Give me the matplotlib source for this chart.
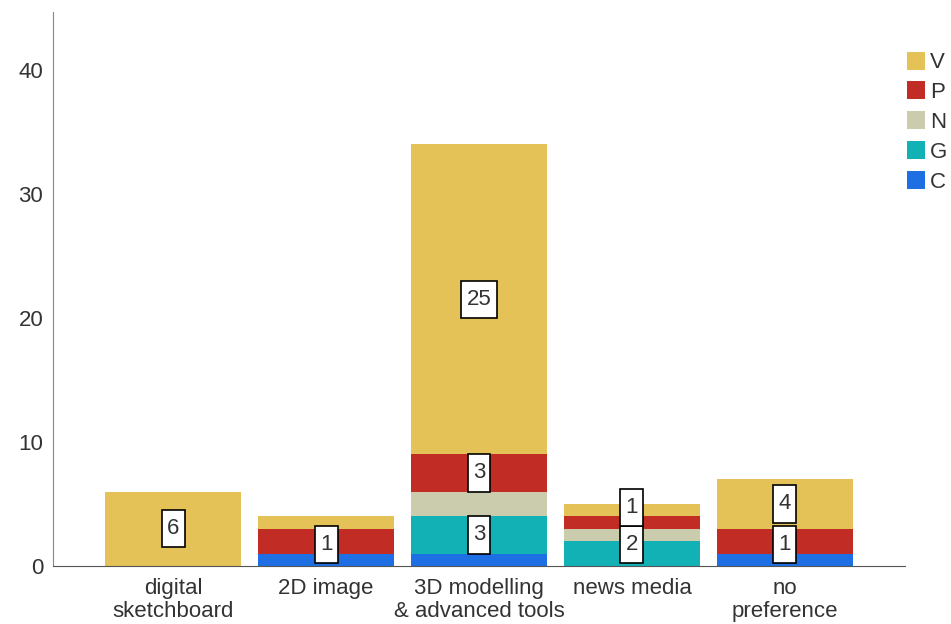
import matplotlib.pyplot as plt
from matplotlib.lines import Line2D
from matplotlib.patches import Rectangle
import numpy as np

plt.rcParams['font.family'] = ['Liberation Sans', 'DejaVu Sans']

# ==== data ====
categories = ['digital\nsketchboard', '2D image', '3D modelling\n& advanced tools',
              'news media', 'no\npreference']
series = ['C', 'G', 'N', 'P', 'V']      # bottom -> top
values = {
    'C': [0, 1, 1, 0, 1],
    'G': [0, 0, 3, 2, 0],
    'N': [0, 0, 2, 1, 0],
    'P': [0, 2, 3, 1, 2],
    'V': [6, 1, 25, 1, 4],
}
# which segments carry a value box
shown = {
    'C': [0, 1, 0, 0, 1],
    'G': [0, 0, 1, 1, 0],
    'N': [0, 0, 0, 0, 0],
    'P': [0, 0, 1, 0, 0],
    'V': [1, 0, 1, 1, 1],
}
colors = {'V': '#e5c258', 'P': '#c12d25', 'N': '#cbcbad', 'G': '#12b1b6', 'C': '#1e6fe3'}

txt = '#333333'
fs = 16

fig = plt.figure(figsize=(9.51, 6.24), dpi=100)
ax = fig.add_axes([0.0557, 0.093, 0.896, 0.888])

x = np.arange(len(categories))
bottom = np.zeros(len(categories))
for s in series:
    v = np.array(values[s], dtype=float)
    ax.bar(x, v, bottom=bottom, width=0.89, color=colors[s], linewidth=0, zorder=2)
    bottom += v

# ==== value boxes ====
box_h = 3.0
for i in range(len(categories)):
    base = 0.0
    prev_top = 0.24
    for s in series:
        v = values[s][i]
        if shown[s][i] and v > 0:
            mid = base + v / 2
            yc = max(mid, prev_top + box_h / 2)
            lab = str(v)
            w = 0.07 + 0.08 * len(lab)
            ax.add_patch(Rectangle((i - w / 2, yc - box_h / 2), w, box_h,
                                   facecolor='white', edgecolor='black', linewidth=1.2, zorder=3))
            ax.text(i, yc, lab, ha='center', va='center', fontsize=fs, color=txt, zorder=4)
            prev_top = yc + box_h / 2
        base += v

ax.set_xlim(-0.786, len(categories) - 1 + 0.786)
ax.set_ylim(0, 44.7)
ax.set_yticks([0, 10, 20, 30, 40])
ax.set_xticks(x)
ax.set_xticklabels(categories, fontsize=fs, color=txt, linespacing=1.1)
ax.tick_params(axis='y', length=0, labelsize=fs, labelcolor=txt, pad=7)
ax.tick_params(axis='x', length=0, pad=9)
for sp in ['top', 'right']:
    ax.spines[sp].set_visible(False)
ax.spines['left'].set_color('#888888')
ax.spines['bottom'].set_color('#555555')

handles = [Line2D([], [], marker='s', linestyle='', markersize=13,
                  markerfacecolor=colors[s], markeredgewidth=0) for s in series[::-1]]
fig.legend(handles, series[::-1], loc='upper left', bbox_to_anchor=(0.939, 0.934),
           frameon=False, fontsize=fs, labelspacing=0.4, handletextpad=0.05,
           handlelength=1.1, borderpad=0, labelcolor=txt)

fig.savefig('out.png', dpi=100)
